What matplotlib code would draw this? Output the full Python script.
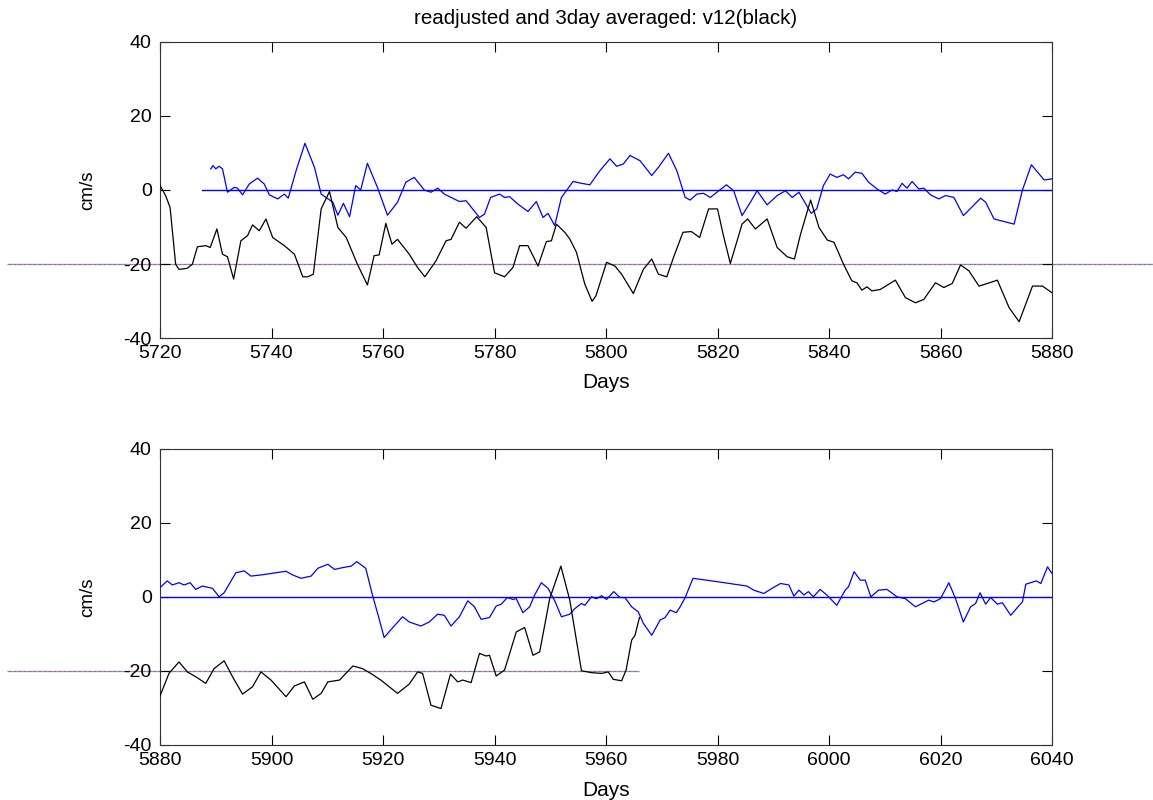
import matplotlib
matplotlib.use("Agg")
from matplotlib import pyplot as plt

plt.rcParams['font.family'] = ['Liberation Sans', 'DejaVu Sans']
plt.rcParams['font.size'] = 14
plt.rcParams['axes.unicode_minus'] = False

# --- days 5720-5880 ---
top_blue_days = [5729.1, 5729.5, 5730, 5730.6, 5731.2, 5732.1, 5733.3, 5733.9, 5734.8, 5736, 5737.5,
                 5738.7, 5739.6, 5741.1, 5742.3, 5743, 5744.4, 5746, 5747.7, 5748.9, 5751, 5751.9,
                 5752.9, 5754, 5755.1, 5756, 5757.2, 5759, 5760.8, 5762.6, 5764.1, 5765.6, 5767.4,
                 5768.6, 5769.8, 5771, 5772.2, 5773.7, 5774.9, 5777.3, 5778.2, 5779.3, 5780.9, 5781.8,
                 5782.7, 5784.2, 5786, 5787.5, 5788.7, 5789.6, 5790.8, 5792, 5794.1, 5795.6, 5797.1,
                 5798.9, 5800.7, 5801.9, 5803.1, 5804.3, 5806.1, 5808.2, 5809.4, 5811.2, 5812.7, 5814.2,
                 5815.1, 5816.3, 5817.5, 5818.7, 5819.9, 5821.6, 5822.9, 5824.4, 5825.9, 5827.1, 5828.9,
                 5830.7, 5832.2, 5833.4, 5834.6, 5836.8, 5837.8, 5839, 5840.2, 5841.4, 5842.6, 5843.5,
                 5844.7, 5845.9, 5847.1, 5848.6, 5850.1, 5851.3, 5852.2, 5853.1, 5854, 5854.9, 5856.1,
                 5857, 5858.2, 5859.7, 5860.9, 5862.4, 5864.1, 5865.7, 5867.2, 5868.1, 5869.6, 5871.4,
                 5873.2, 5874.7, 5876.3, 5878.6, 5880]
top_blue = [5.7, 6.6, 5.7, 6.4, 5.7, -0.6, 0.7, 0.5, -1.3, 1.6, 3.2,
            1.6, -1.3, -2.4, -1.1, -2.2, 5.2, 12.6, 6.1, -1.1, -3.3, -6.8,
            -3.6, -7.2, 1.2, 0, 7.2, 0.7, -6.8, -3.3, 2.1, 3.4, 0,
            -0.6, 0.5, -1.1, -2, -3.1, -2.9, -7.4, -6.5, -2, -1.1, -2,
            -1.8, -3.8, -5.8, -3.1, -7.4, -6.3, -9.6, -2, 2.3, 1.8, 1.4,
            5.2, 8.4, 6.4, 7, 9.3, 7.9, 3.9, 6.1, 9.9, 5.2, -2,
            -2.7, -1.1, -0.9, -2, -0.6, 1.4, -0.2, -6.9, -3.3, -0.2, -4,
            -1.5, -0.2, -2, -0.6, -6.3, -5.1, 1.2, 4.3, 3.4, 4.1, 3,
            4.8, 4.5, 2.1, 0.3, -1.1, 0, -0.4, 1.8, 0.5, 2.3, 0.3,
            0.5, -1.3, -2.4, -1.5, -2, -6.9, -4.5, -2.2, -3.3, -7.8, -8.5,
            -9.2, 0, 6.8, 2.7, 3]

top_black_days = [5720, 5721, 5721.8, 5722.8, 5723.4, 5724.9, 5725.8, 5726.7, 5728.2, 5729, 5730.2,
                  5731.2, 5732.1, 5733.2, 5734.5, 5735.7, 5736.6, 5737.8, 5739, 5740.2, 5742.3, 5744.1,
                  5745.6, 5746.5, 5747.5, 5748.9, 5750.4, 5751.9, 5753.4, 5755.4, 5757.2, 5758.4, 5759.3,
                  5760.5, 5761.6, 5762.6, 5764.7, 5766.2, 5767.5, 5769.5, 5771.3, 5772.2, 5773.7, 5774.9,
                  5776.8, 5778.5, 5780, 5781.8, 5783.3, 5784.5, 5786, 5787.8, 5789.3, 5790.2, 5791.1,
                  5792.6, 5793.5, 5794.7, 5796.2, 5797.5, 5798.2, 5800.1, 5801.6, 5802.8, 5804.9, 5806.7,
                  5808.2, 5809.4, 5810.9, 5812.1, 5813.8, 5815.3, 5816.8, 5818.4, 5820, 5821, 5822.3,
                  5824.4, 5825.4, 5826.8, 5828.9, 5830.7, 5832.5, 5833.8, 5834.9, 5836.7, 5838.2, 5839.7,
                  5840.9, 5842.6, 5844.1, 5845, 5845.9, 5846.8, 5847.7, 5849.2, 5851.9, 5853.7, 5855.5,
                  5857, 5859.1, 5860.6, 5862.1, 5863.6, 5865.1, 5866.9, 5868.4, 5870.2, 5872.3, 5874.1,
                  5876.5, 5878.3, 5880]
top_black = [1.2, -1.5, -4.7, -20, -21.4, -21.1, -20, -15.3, -15, -15.5, -10.5,
             -17.3, -18, -24, -13.7, -12.3, -9.4, -11, -7.8, -12.8, -15, -17.3,
             -23.4, -23.4, -22.7, -5.1, -0.4, -10.1, -12.8, -20, -25.6, -17.7, -17.5,
             -9, -14.6, -13.3, -17.3, -20.9, -23.4, -19.1, -13.7, -13.3, -8.7, -10.3,
             -7.2, -10.1, -22.3, -23.4, -20.9, -15, -15, -20.5, -13.9, -13.7, -9.2,
             -11.4, -13.2, -16.8, -25.4, -30, -28.5, -19.5, -20.5, -22.7, -27.9, -21.4,
             -18.6, -22.7, -23.4, -18.2, -11.4, -11.2, -12.8, -5.1, -5.1, -11.9, -19.8,
             -9.2, -7.8, -10.5, -7.8, -15.5, -18, -18.6, -11.9, -2.7, -10.1, -13.5,
             -14.1, -20, -24.5, -25, -27, -26.1, -27.2, -26.8, -24.3, -29, -30.4,
             -29.5, -25, -26.3, -25.2, -20.2, -21.8, -25.9, -25.2, -24.3, -31.7, -35.5,
             -25.9, -25.9, -27.7]

# --- days 5880-6040 ---
bot_blue_days = [5880, 5881.3, 5882.2, 5883.4, 5884.3, 5885.4, 5886.4, 5887.6, 5889.4, 5890.6, 5891.5,
                 5893.6, 5895.1, 5896.3, 5898.1, 5899.9, 5902.6, 5903.8, 5905.3, 5907.1, 5908.3, 5910.1,
                 5911.3, 5912.8, 5914.3, 5915.3, 5916.9, 5918.1, 5919.2, 5920.2, 5922, 5923.5, 5924.7,
                 5926.8, 5928.3, 5929.8, 5931, 5932.2, 5933.7, 5935.2, 5936.4, 5937.6, 5939.1, 5940.3,
                 5941.2, 5942.3, 5943.3, 5943.9, 5945.1, 5946.3, 5947.2, 5948.4, 5949.6, 5950.9, 5952,
                 5953.5, 5954.4, 5955.6, 5956.2, 5957.4, 5958.3, 5959.2, 5960.1, 5961.4, 5962.5, 5963.4,
                 5964.6, 5965.8, 5966.7, 5968.2, 5969.7, 5970.6, 5971.5, 5972.6, 5973.3, 5974.2, 5975.6,
                 5979.9, 5985.3, 5986.5, 5988.3, 5989.8, 5991.3, 5992.8, 5993.7, 5994.6, 5995.5, 5996.3,
                 5997.2, 5998.4, 5999.6, 6001.4, 6002.9, 6003.5, 6004.5, 6005.6, 6006.5, 6007.5, 6008.9,
                 6010.4, 6012.2, 6013.7, 6015.5, 6017.9, 6018.8, 6020, 6021.5, 6022.7, 6024.1, 6025.4,
                 6026.3, 6027.1, 6028.1, 6029, 6030.2, 6031.1, 6032.6, 6033.9, 6034.7, 6035.3, 6037.2,
                 6038, 6039.2, 6040]
bot_blue = [2.5, 4.3, 3.2, 3.8, 3.2, 3.8, 2, 2.9, 2.3, 0, 1.1,
            6.5, 7, 5.6, 5.9, 6.3, 6.9, 5.9, 5, 5.6, 7.7, 8.8,
            7.4, 7.9, 8.3, 9.5, 7.7, 0.5, -5.4, -11, -7.9, -5.4, -6.8,
            -7.9, -6.8, -4.7, -5, -7.9, -5.4, -1.1, -2.7, -6.1, -5.6, -2.5,
            -2, -0.2, -0.7, -0.5, -4.3, -2.7, 0.5, 3.8, 2.3, -1.4, -5.4,
            -4.7, -3.2, -1.8, -2.3, 0, -0.5, 0.3, -0.7, 1.4, -0.2, -0.2,
            -2.7, -4.1, -7.2, -10.4, -6.3, -5.6, -3.6, -4.3, -2.7, -0.2, 5,
            4.1, 2.9, 1.8, 0.9, 2.3, 3.6, 3.2, 0.2, 1.8, 0.5, 1.4,
            0, 2, 0.5, -2.3, 1.8, 2.7, 6.8, 4.5, 4.5, 0, 1.8,
            2, 0, -0.5, -2.7, -0.9, -1.4, -0.5, 3.8, -0.5, -6.8, -2.7,
            -1.8, 1.1, -2, -0.2, -2, -1.6, -5, -2.7, -1.4, 3.4, 4.3,
            3.6, 8.1, 6.3]

bot_black_days = [5880, 5881.6, 5883.4, 5884.9, 5886.4, 5888.2, 5889.7, 5891.5, 5893, 5894.8, 5896.6,
                  5898.1, 5899.9, 5902.6, 5904.1, 5905.9, 5907.4, 5908.9, 5910.1, 5912.2, 5914.6, 5916.3,
                  5917.8, 5919.6, 5922.6, 5924.7, 5926.2, 5927.1, 5928.6, 5930.4, 5932.1, 5933.4, 5934.3,
                  5935.8, 5937.3, 5938.5, 5939.1, 5940.3, 5941.8, 5943.9, 5945.4, 5946.9, 5948.1, 5949.9,
                  5951.9, 5953.5, 5955.6, 5957.4, 5959.2, 5960.4, 5961.3, 5962.8, 5963.6, 5964.6, 5965.2,
                  5966]
bot_black = [-26.8, -20.7, -17.6, -20.3, -21.6, -23.4, -19.4, -17.3, -21.6, -26.3, -24.3,
             -20.3, -22.5, -27, -24.1, -23, -27.7, -26.1, -23, -22.5, -18.7, -19.4,
             -20.7, -22.5, -26.1, -23.6, -20.3, -20.7, -29.3, -30.2, -20.9, -23, -22.5,
             -23.2, -15.3, -16, -15.8, -21.4, -19.8, -9.5, -8.3, -15.8, -14.9, -0.5,
             8.3, -0.9, -20, -20.5, -20.7, -20.3, -22.3, -22.7, -19.8, -11.7, -10.4,
             -5.6]

# zero line (blue) and the -20 reference line for each panel
top_zero_span = [5727.6, 5880]
bot_zero_span = [5880, 6040]
top_ref_span = [5692.6, 5900]
bot_ref_span = [5852.6, 5965.9]
ref_level = -20

title = 'readjusted and 3day averaged: v12(black)'

fig = plt.figure(figsize=(11.53, 8.0), dpi=100)
ax1 = fig.add_axes([0.1388, 0.577, 0.7736, 0.371])
ax2 = fig.add_axes([0.1388, 0.069, 0.7736, 0.370])

panels = [
    (ax1, top_blue_days, top_blue, top_black_days, top_black, top_zero_span, top_ref_span, (5720, 5880)),
    (ax2, bot_blue_days, bot_blue, bot_black_days, bot_black, bot_zero_span, bot_ref_span, (5880, 6040)),
]

for ax, bd, bv, kd, kv, zspan, rspan, xlim in panels:
    # dotted reference line drawn as two interleaved dot patterns
    ax.plot(rspan, [ref_level, ref_level], color='#d06060', lw=0.9,
            linestyle=(0, (1, 1)), clip_on=False, zorder=1)
    ax.plot(rspan, [ref_level, ref_level], color='#6070d0', lw=0.9,
            linestyle=(1, (1, 1)), clip_on=False, zorder=1)
    ax.plot(zspan, [0, 0], color='#0000ff', lw=1.0, zorder=2)
    ax.plot(bd, bv, color='#0000ff', lw=0.9, zorder=3)
    ax.plot(kd, kv, color='#000000', lw=0.9, zorder=3)

    ax.set_xlim(*xlim)
    ax.set_ylim(-40, 40)
    ax.set_xticks(range(xlim[0], xlim[1] + 1, 20))
    ax.set_yticks(range(-40, 41, 20))
    ax.tick_params(direction='in', length=7, width=0.8, top=True, right=True,
                   labelsize=14, colors='black')
    ax.tick_params(axis='x', pad=5)
    ax.tick_params(axis='y', pad=6)
    for sp in ax.spines.values():
        sp.set_linewidth(0.8)
        sp.set_color('#333333')
    ax.set_ylabel('cm/s', fontsize=13.5)
    ax.set_xlabel('Days', fontsize=15)
    ax.yaxis.set_label_coords(-0.071, 0.5)

ax1.xaxis.set_label_coords(0.5, -0.117)
ax2.xaxis.set_label_coords(0.5, -0.121)

fig.text(0.5256, 0.977, title, ha='center', va='center', fontsize=14.8)

fig.savefig('out.png', dpi=100)
